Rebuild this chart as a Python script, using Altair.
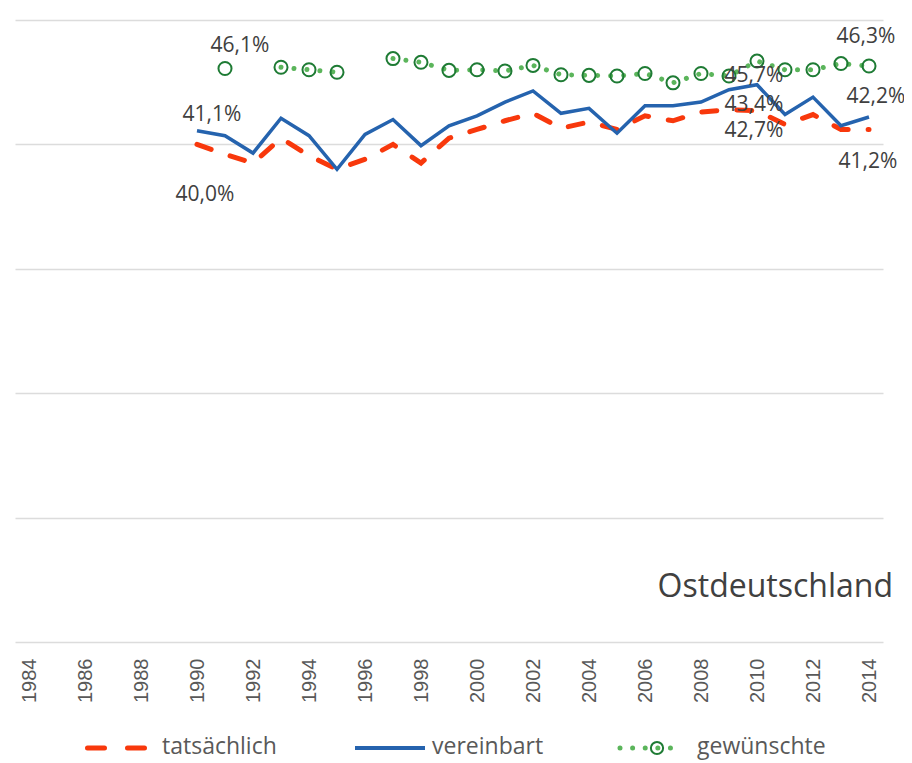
import altair as alt
import pandas as pd

# ---- data ----
years = list(range(1990, 2015))
tatsaechlich = [40.0, 39.2, 38.5, 40.5, 39.1, 38.0, 38.8, 40.0, 38.5, 40.5,
                41.2, 41.9, 42.5, 41.3, 41.8, 41.2, 42.3, 41.9, 42.6, 42.8,
                42.7, 41.6, 42.4, 41.2, 41.2]
vereinbart = [41.1, 40.7, 39.3, 42.1, 40.7, 38.0, 40.8, 42.0, 39.9, 41.5,
              42.3, 43.4, 44.3, 42.5, 42.9, 40.9, 43.1, 43.1, 43.4, 44.4,
              44.8, 42.4, 43.8, 41.5, 42.2]
gewuenschte = [None, 46.1, None, 46.2, 46.0, 45.8, None, 46.9, 46.6, 45.95,
               46.0, 45.9, 46.35, 45.6, 45.55, 45.5, 45.7, 44.95, 45.7, 45.5,
               46.7, 46.0, 46.0, 46.5, 46.3]
series_names = ["tatsächlich", "vereinbart", "gewünschte"]
tick_years = list(range(1984, 2015, 2))
grid_values = [0, 10, 20, 30, 40, 50]
mid_texts = ["45,7%", "43,4%", "42,7%"]
panel_title = "Ostdeutschland"

# ---- build long table ----
rows = []
for name, vals in zip(series_names, [tatsaechlich, vereinbart, gewuenschte]):
    seg = 0
    for yr, v in zip(years, vals):
        if v is None:
            seg += 1
            continue
        rows.append({"year": yr, "value": v, "series": name, "seg": seg})
df = pd.DataFrame(rows)

RED = "#F8380C"
BLUE = "#2563AE"
GREEN_DOT = "#5BB55B"
GREEN_DARK = "#1E7B34"
TXT = "#404040"
FONT = "Open Sans"

W, H = 868, 622
xs = alt.Scale(domain=[1983.5, 2014.5], nice=False, zero=False)
ys = alt.Scale(domain=[0, 50], nice=False, zero=False)

base = alt.Chart(df)
X = alt.X("year:Q", scale=xs, title="",
          axis=alt.Axis(values=tick_years, format="d", labelAngle=270,
                        labelFont="Liberation Sans", labelFontSize=20,
                        labelColor="#595959", ticks=False, tickSize=0,
                        domain=False, grid=False, labelPadding=16))
Y = alt.Y("value:Q", scale=ys, title="",
          axis=alt.Axis(values=grid_values, labels=False, ticks=False,
                        domain=False, grid=True, gridColor="#DCDCDC",
                        gridWidth=1.6))

red_line = base.transform_filter(alt.datum.series == "tatsächlich").mark_line(
    color=RED, strokeWidth=5, strokeDash=[15, 20], strokeCap="round"
).encode(x=X, y=Y)

blue_line = base.transform_filter(alt.datum.series == "vereinbart").mark_line(
    color=BLUE, strokeWidth=3.5
).encode(x=alt.X("year:Q", scale=xs), y=alt.Y("value:Q", scale=ys))

green_line = base.transform_filter(alt.datum.series == "gewünschte").mark_line(
    color=GREEN_DOT, strokeWidth=5, strokeDash=[0.01, 13], strokeCap="round"
).encode(x=alt.X("year:Q", scale=xs), y=alt.Y("value:Q", scale=ys),
         detail="seg:N")

green_pts = base.transform_filter(alt.datum.series == "gewünschte").mark_point(
    shape="circle", filled=False, color=GREEN_DARK, size=170, strokeWidth=2,
    opacity=1
).encode(x=alt.X("year:Q", scale=xs), y=alt.Y("value:Q", scale=ys))

layers = [red_line, blue_line, green_line, green_pts]

# ---- data labels ----
label_specs = [
    ("gewünschte", 1991, 15, -23),
    ("vereinbart", 1990, 15, -16),
    ("tatsächlich", 1990, 8, 51),
    ("gewünschte", 2014, -3, -29),
    ("vereinbart", 2014, 7, -20),
    ("tatsächlich", 2014, -1, 33),
]
for s, yr, dx, dy in label_specs:
    layers.append(
        base.transform_filter((alt.datum.series == s) & (alt.datum.year == yr))
        .transform_calculate(lab="replace(format(datum.value, '.1f'), '.', ',') + '%'")
        .mark_text(font=FONT, fontSize=21, color=TXT, dx=dx, dy=dy,
                   align="center", baseline="middle")
        .encode(x=alt.X("year:Q", scale=xs), y=alt.Y("value:Q", scale=ys),
                text="lab:N")
    )

mid_specs = [("gewünschte", 15), ("vereinbart", 20), ("tatsächlich", 20)]
for txt, (s, dy) in zip(mid_texts, mid_specs):
    layers.append(
        base.transform_filter((alt.datum.series == s) & (alt.datum.year == 2010))
        .mark_text(font=FONT, fontSize=21, color=TXT, dx=-3, dy=dy,
                   align="center", baseline="middle", text=txt)
        .encode(x=alt.X("year:Q", scale=xs), y=alt.Y("value:Q", scale=ys))
    )

one = alt.Chart(pd.DataFrame({"k": [0]}))

# panel title inside plot
layers.append(one.mark_text(text=panel_title, font=FONT, fontSize=32, color=TXT,
                            align="right", baseline="alphabetic")
              .encode(x=alt.value(878), y=alt.value(577)))

# ---- custom legend ----
LY = 728
layers.append(one.mark_rule(color=RED, strokeWidth=5, strokeDash=[17, 23],
                            strokeCap="round")
              .encode(x=alt.value(72.5), x2=alt.value(129.5), y=alt.value(LY)))
layers.append(one.mark_text(text="tatsächlich", font=FONT, fontSize=23,
                            color="#595959", align="left", baseline="middle")
              .encode(x=alt.value(147), y=alt.value(LY - 1)))
layers.append(one.mark_rule(color=BLUE, strokeWidth=4)
              .encode(x=alt.value(340), x2=alt.value(410), y=alt.value(LY)))
layers.append(one.mark_text(text="vereinbart", font=FONT, fontSize=23,
                            color="#595959", align="left", baseline="middle")
              .encode(x=alt.value(417), y=alt.value(LY - 1)))
layers.append(one.mark_rule(color=GREEN_DOT, strokeWidth=5, strokeDash=[0.01, 12.6],
                            strokeCap="round")
              .encode(x=alt.value(605), x2=alt.value(668), y=alt.value(LY)))
layers.append(one.mark_point(shape="circle", filled=False, color=GREEN_DARK,
                             size=150, strokeWidth=2, opacity=1)
              .encode(x=alt.value(642), y=alt.value(LY)))
layers.append(one.mark_text(text="gewünschte", font=FONT, fontSize=23,
                            color="#595959", align="left", baseline="middle")
              .encode(x=alt.value(682), y=alt.value(LY - 1)))

chart = alt.layer(*layers).properties(
    width=W, height=H,
    autosize=alt.AutoSizeParams(type="none"),
    padding={"left": 7, "top": 12, "right": 21, "bottom": 121},
).configure_view(strokeWidth=0)

chart.save("out.html", embed_options={"renderer": "svg", "actions": False})
